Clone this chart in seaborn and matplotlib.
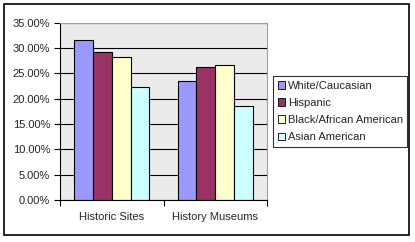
import matplotlib
matplotlib.use("Agg")
import matplotlib.pyplot as plt
import seaborn as sns
import pandas as pd
from matplotlib.patches import Rectangle
from matplotlib.ticker import FuncFormatter, FixedLocator

categories = ["Historic Sites", "History Museums"]
groups = ["White/Caucasian", "Hispanic", "Black/African American", "Asian American"]
white = [31.5, 23.5]
hispanic = [29.3, 26.2]
black = [28.3, 26.6]
asian = [22.4, 18.5]
colors = ["#9999FF", "#993366", "#FFFFCC", "#CCFFFF"]

rows = []
for g, vals in zip(groups, [white, hispanic, black, asian]):
    for c, v in zip(categories, vals):
        rows.append({"Category": c, "Group": g, "Value": v})
df = pd.DataFrame(rows)

sns.set_style("white")
plt.rcParams["font.family"] = ["Liberation Sans", "DejaVu Sans"]

W, H = 415, 242
fig = plt.figure(figsize=(W / 100, H / 100), dpi=100)
ax = fig.add_axes([60 / W, 1 - 200 / H, 207 / W, 177.3 / H])
ax.set_facecolor("#EBEBEB")

sns.barplot(data=df, x="Category", y="Value", hue="Group", hue_order=groups,
            order=categories, palette=colors, width=0.725, ax=ax,
            edgecolor="black", linewidth=0.8, saturation=1, legend=False)

ax.set_xlim(-0.5, 1.5)
ax.set_ylim(0, 35)
ax.set_yticks([0, 5, 10, 15, 20, 25, 30, 35])
ax.yaxis.set_major_formatter(FuncFormatter(lambda v, p: f"{v:.2f}%"))
ax.grid(axis="y", color="black", linewidth=0.8)
ax.set_axisbelow(True)
ax.set_xlabel("")
ax.set_ylabel("")

ax.xaxis.set_major_locator(FixedLocator([0, 1]))
ax.xaxis.set_minor_locator(FixedLocator([-0.5, 0.5, 1.5]))
ax.tick_params(axis="x", which="major", length=0, labelsize=8, pad=9)
ax.tick_params(axis="x", which="minor", length=4, width=0.8, color="black", direction="out", bottom=True)
ax.tick_params(axis="y", length=4, width=0.8, color="black", direction="out", labelsize=8, left=True, pad=3)

for s in ["left", "bottom"]:
    ax.spines[s].set_color("black")
    ax.spines[s].set_linewidth(0.8)
for s in ["top", "right"]:
    ax.spines[s].set_color("#A0A0A0")
    ax.spines[s].set_linewidth(0.8)

handles = [Rectangle((0, 0), 1, 1, facecolor=c, edgecolor="black", linewidth=0.6) for c in colors]
leg = fig.legend(handles, groups, loc="upper left",
                 bbox_to_anchor=(273 / W, 1 - 76 / H), fontsize=8,
                 frameon=True, fancybox=False, edgecolor="black",
                 handlelength=0.7, handleheight=0.7, handletextpad=0.2,
                 labelspacing=0.65, borderpad=0.42, borderaxespad=0)
leg.get_frame().set_linewidth(0.8)

fig.patches.append(Rectangle((4 / W, 1 - 235 / H), 405 / W, 231 / H,
                             transform=fig.transFigure, fill=False,
                             edgecolor="black", linewidth=1.2))

fig.savefig("out.png", dpi=100)
